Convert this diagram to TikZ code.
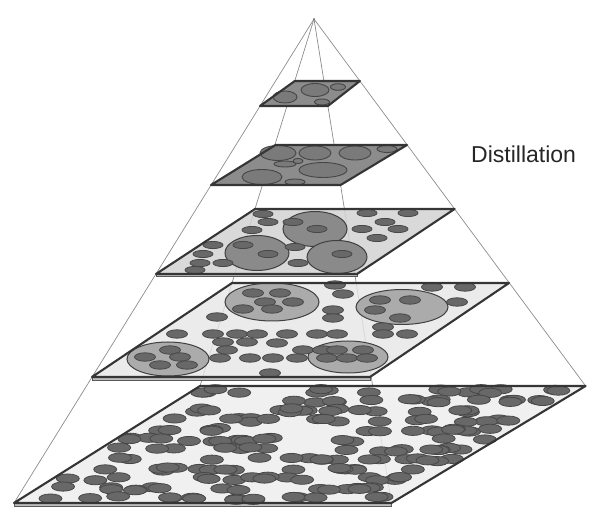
\documentclass[tikz,border=0pt]{standalone}
\usepackage{fontspec}
\setmainfont{Liberation Sans}
\definecolor{edgecol}{HTML}{8C8C8C}
\definecolor{rimcol}{HTML}{353535}
\definecolor{darkfill}{HTML}{8C8C8C}
\definecolor{darkell}{HTML}{7A7A7A}
\definecolor{ellcol}{HTML}{686868}
\definecolor{ellrim}{HTML}{484848}
\definecolor{midcirc}{HTML}{8A8A8A}
\definecolor{lightcirc}{HTML}{ABABAB}
\definecolor{fillA}{HTML}{D2D2D2}
\definecolor{fillB}{HTML}{E6E6E6}
\definecolor{fillC}{HTML}{EDEDED}
\definecolor{slabcol}{HTML}{BEBEBE}
\tikzset{
  pyredge/.style={draw=edgecol, line width=0.7pt},
  layerrim/.style={draw=rimcol, line width=2.1pt, line join=round},
  slab/.style={fill=slabcol, draw=gray!70!black, line width=0.5pt},
  darkblob/.style={fill=darkell, draw=gray!55!black, line width=0.9pt},
  smallblob/.style={fill=ellcol, draw=ellrim, line width=0.8pt},
  midblob/.style={fill=midcirc, draw=gray!50!black, line width=1pt},
  lightblob/.style={fill=lightcirc, draw=gray!50!black, line width=1pt},
  lbl/.style={font=\fontsize{23}{27}\selectfont, text=black!85, inner sep=0pt, anchor=base west}
}
\begin{document}
\begin{tikzpicture}[x=1pt,y=-1pt]
\useasboundingbox (0,0) rectangle (590,508);
% apex and layer corners (a=back-left, b=back-right, c=front-right, d=front-left)
\coordinate (apex) at (314,19);
\coordinate (L1a) at (294.8,81);  \coordinate (L1b) at (359.9,81);  \coordinate (L1c) at (327.9,106); \coordinate (L1d) at (260,106);
\coordinate (L2a) at (275.5,145); \coordinate (L2b) at (407,145);   \coordinate (L2c) at (340.6,185); \coordinate (L2d) at (211,185);
\coordinate (L3a) at (255,209);   \coordinate (L3b) at (454.6,209); \coordinate (L3c) at (357,274);   \coordinate (L3d) at (156,274);
\coordinate (L4a) at (232,283);   \coordinate (L4b) at (509,283);   \coordinate (L4c) at (370,377);   \coordinate (L4d) at (92,377);
\coordinate (L5a) at (200,386);   \coordinate (L5b) at (585.6,386); \coordinate (L5c) at (391.4,503); \coordinate (L5d) at (14,503);

% pyramid edges
\draw[pyredge] (apex) -- (L5d);
\draw[pyredge] (apex) -- (L5a);
\draw[pyredge] (apex) -- (L5b);
\draw[pyredge] (apex) -- (L5c);
\fill[gray!70!black] (apex) circle (0.9);

% ---------- base layer ----------
\fill[slab] (L5d) -- (L5c) -- ([yshift=-3.5pt]L5c) -- ([yshift=-3.5pt]L5d) -- cycle;
\fill[fillC, fill opacity=0.82] (L5a) -- (L5b) -- (L5c) -- (L5d) -- cycle;
\pgfmathsetseed{4711}
\foreach \r in {0,...,11}{
  \foreach \k in {1,...,16}{
    \pgfmathsetmacro{\u}{0.03+0.94*rnd}
    \pgfmathsetmacro{\v}{(\r+0.5)/12+(rnd-0.5)*0.035}
    \pgfmathsetmacro{\px}{(200+385.6*\u)*(1-\v)+(14+377.4*\u)*\v}
    \pgfmathsetmacro{\py}{386+117*\v}
    \filldraw[smallblob] (\px,\py) ellipse [x radius=11.5, y radius=4.6];
  }
}
\draw[layerrim] (L5a) -- (L5b) -- (L5c) -- (L5d) -- cycle;

% ---------- layer 4 ----------
\fill[slab] (L4d) -- (L4c) -- ([yshift=-3pt]L4c) -- ([yshift=-3pt]L4d) -- cycle;
\fill[fillB, fill opacity=0.82] (L4a) -- (L4b) -- (L4c) -- (L4d) -- cycle;
\filldraw[lightblob] (272,302) ellipse [x radius=47, y radius=19];
\filldraw[lightblob] (168,359) ellipse [x radius=41, y radius=17];
\filldraw[lightblob] (402,307) ellipse [x radius=46, y radius=17.5];
\filldraw[lightblob] (348,357) ellipse [x radius=40, y radius=16];
\foreach \x/\y in {253/293,280/293,265/302,293/302,243/309,272/309,217/317,
  177/334,213/334,237/334,257/334,287/334,317/334,337/334,
  223/342,247/342,277/343,
  227/350,303/350,323/350,337/350,363/350,
  220/358,250/358,273/358,297/358,327/358,347/358,367/358,
  270/373,
  145/357,170/350,180/357,160/365,187/365,
  335/285,343/294,432/287,465/287,457/302,380/300,410/300,333/310,333/318,
  375/310,400/318,383/327,383/334,407/334}
  \filldraw[smallblob] (\x,\y) ellipse [x radius=10.5, y radius=4.2];
\draw[layerrim] (L4a) -- (L4b) -- (L4c) -- (L4d) -- cycle;

% ---------- layer 3 ----------
\fill[slab] (L3d) -- (L3c) -- ([yshift=-2.5pt]L3c) -- ([yshift=-2.5pt]L3d) -- cycle;
\fill[fillA, fill opacity=0.85] (L3a) -- (L3b) -- (L3c) -- (L3d) -- cycle;
\filldraw[midblob] (315,229) ellipse [x radius=32, y radius=17.5];
\filldraw[midblob] (257,253) ellipse [x radius=32, y radius=17.5];
\filldraw[midblob] (337,257) ellipse [x radius=30, y radius=16.5];
\foreach \x/\y in {263/214,367/213,408/213,268/222,293/222,385/222,252/230,317/229,
  362/229,398/229,377/238,213/245,243/245,295/247,203/254,268/254,342/254,
  200/263,223/263,298/263,195/270}
  \filldraw[smallblob] (\x,\y) ellipse [x radius=10, y radius=3.6];
\draw[layerrim] (L3a) -- (L3b) -- (L3c) -- (L3d) -- cycle;

% ---------- layer 2 ----------
\fill[darkfill] (L2a) -- (L2b) -- (L2c) -- (L2d) -- cycle;
\filldraw[darkblob] (278,153) ellipse [x radius=18, y radius=7.5];
\filldraw[darkblob] (315,153) ellipse [x radius=16, y radius=7];
\filldraw[darkblob] (355,153) ellipse [x radius=16, y radius=7];
\filldraw[darkblob] (387,149) ellipse [x radius=10, y radius=3.5];
\filldraw[darkblob] (285,164) ellipse [x radius=11, y radius=3];
\filldraw[darkblob] (298,161) ellipse [x radius=5, y radius=2.6];
\filldraw[darkblob] (323,170) ellipse [x radius=24, y radius=7.5];
\filldraw[darkblob] (262,177) ellipse [x radius=20, y radius=7.5];
\filldraw[darkblob] (295,182) ellipse [x radius=10, y radius=3];
\draw[layerrim] (L2a) -- (L2b) -- (L2c) -- (L2d) -- cycle;

% ---------- layer 1 ----------
\fill[darkfill] (L1a) -- (L1b) -- (L1c) -- (L1d) -- cycle;
\filldraw[darkblob] (315,90) ellipse [x radius=14, y radius=6.5];
\filldraw[darkblob] (285,97) ellipse [x radius=12, y radius=6];
\filldraw[darkblob] (338,87) ellipse [x radius=7.5, y radius=3.3];
\filldraw[darkblob] (322,102) ellipse [x radius=7.5, y radius=3];
\draw[layerrim] (L1a) -- (L1b) -- (L1c) -- (L1d) -- cycle;

% label
\node[lbl] (distil) at (471,163) {Distillation};
\end{tikzpicture}
\end{document}
